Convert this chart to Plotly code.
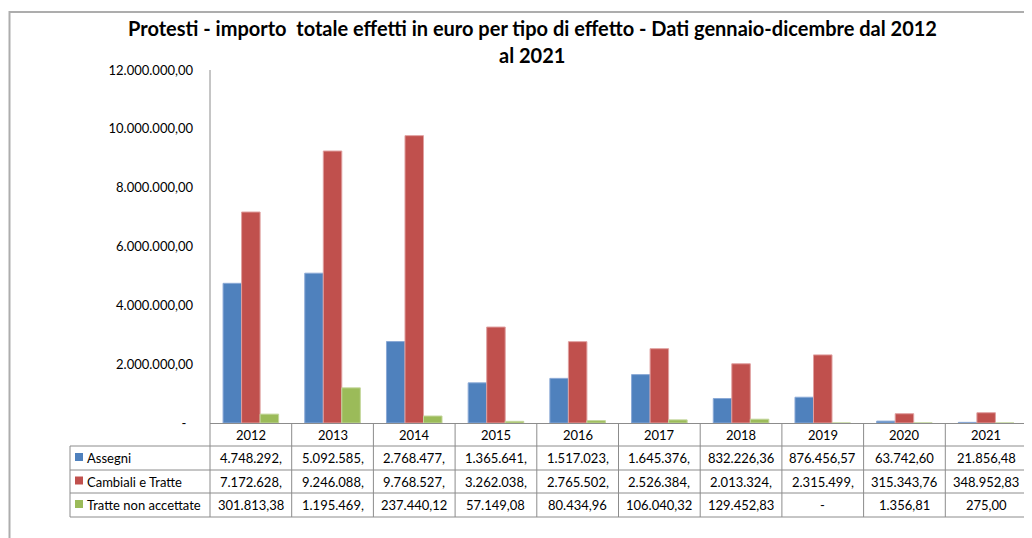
import plotly.graph_objects as go

years = ["2012", "2013", "2014", "2015", "2016", "2017", "2018", "2019", "2020", "2021"]
assegni = [4748292, 5092585, 2768477, 1365641, 1517023, 1645376, 832226.36, 876456.57, 63742.60, 21856.48]
cambiali = [7172628, 9246088, 9768527, 3262038, 2765502, 2526384, 2013324, 2315499, 315343.76, 348952.83]
tratte = [301813.38, 1195469, 237440.12, 57149.08, 80434.96, 106040.32, 129452.83, 0, 1356.81, 275.00]
series_names = ["Assegni", "Cambiali e Tratte", "Tratte non accettate"]
y_ticks = [0, 2000000, 4000000, 6000000, 8000000, 10000000, 12000000]

colors = ["#4F81BD", "#C0504D", "#9BBB59"]
edge_colors = ["#8AA9D6", "#E0A0A0", "#C3D69B"]
FONT = "Lato"
GRID = "#8C8C8C"

# the page body has an 8px margin, so lay things out in window pixels minus that
O = 8
W, H = 1032 - O, 538 - O
# plot area in window pixels
L, R, T, B = 210, 1027, 70, 423


def px(x):
    return (x - L) / (R - L)


def py(y):
    return (B - y) / (B - T)


def fmt_it(v, width=10):
    # italian number format, cut like Excel does when the cell is too narrow
    if v == 0:
        return "-"
    s = f"{v:,.2f}".replace(",", "X").replace(".", ",").replace("X", ".")
    if len(s) > width:
        s = s.split(",")[0] + ","
    return s


def fmt_tick(v):
    if v == 0:
        return "-\u00a0\u00a0"
    return f"{v:,.2f}".replace(",", "X").replace(".", ",").replace("X", ".")


fig = go.Figure()
for name, vals, c, ec in zip(series_names, [assegni, cambiali, tratte], colors, edge_colors):
    fig.add_trace(go.Bar(x=years, y=vals, name=name,
                         marker=dict(color=c, line=dict(color=ec, width=1))))

shapes = []
annotations = []
line = dict(color=GRID, width=1)

# table grid
ROW_Y = [423, 446, 470, 493, 517]
for y in ROW_Y[1:]:
    shapes.append(dict(type="line", xref="paper", yref="paper",
                       x0=px(70), x1=px(R), y0=py(y), y1=py(y), line=line))
shapes.append(dict(type="line", xref="paper", yref="paper",
                   x0=px(70), x1=px(70), y0=py(ROW_Y[1]), y1=py(ROW_Y[-1]), line=line))
shapes.append(dict(type="line", xref="paper", yref="paper",
                   x0=0, x1=0, y0=1, y1=py(ROW_Y[-1]), line=line))
for i in range(len(years)):
    shapes.append(dict(type="line", xref="x", yref="paper",
                       x0=i + 0.5, x1=i + 0.5, y0=py(ROW_Y[0]), y1=py(ROW_Y[-1]), line=line))

cell_font = dict(family=FONT, size=13, color="#000000")
for i, yr in enumerate(years):
    annotations.append(dict(x=i, y=py((ROW_Y[0] + ROW_Y[1]) / 2), xref="x", yref="paper",
                            xanchor="center", yanchor="middle",
                            text=yr, showarrow=False, font=cell_font))

for r, (name, vals, c) in enumerate(zip(series_names, [assegni, cambiali, tratte], colors)):
    yc = (ROW_Y[r + 1] + ROW_Y[r + 2]) / 2
    shapes.append(dict(type="rect", xref="paper", yref="paper",
                       x0=px(75), x1=px(83), y0=py(yc - 5), y1=py(yc + 3),
                       fillcolor=c, line=dict(width=0)))
    annotations.append(dict(x=px(85), y=py(yc), xref="paper", yref="paper", text=name,
                            xanchor="left", yanchor="middle", showarrow=False, font=cell_font))
    for i, v in enumerate(vals):
        annotations.append(dict(x=i, y=py(yc), xref="x", yref="paper", text=fmt_it(v),
                                xanchor="center", yanchor="middle",
                                showarrow=False, font=cell_font))

# title (two lines as in the original)
title_font = dict(family=FONT, size=20, color="#000000")
annotations.append(dict(x=px(532), y=py(28), xref="paper", yref="paper", showarrow=False,
                        xanchor="center", yanchor="middle",
                        text="<b>Protesti - importo  totale effetti in euro per tipo di effetto - Dati gennaio-dicembre dal 2012</b>",
                        font=title_font))
annotations.append(dict(x=px(532), y=py(55), xref="paper", yref="paper", showarrow=False,
                        xanchor="center", yanchor="middle",
                        text="<b>al 2021</b>", font=title_font))

# outer chart frame (left/top edges visible, the rest runs off the page)
shapes.append(dict(type="rect", xref="paper", yref="paper",
                   x0=px(9.5), x1=px(1032 + 20), y0=py(12), y1=py(538 + 20),
                   line=dict(color="#ADADAD", width=2)))

fig.update_layout(
    width=W, height=H,
    margin=dict(l=L - O, r=W - (R - O), t=T - O, b=H - (B - O)),
    barmode="group", bargap=0.32, bargroupgap=0,
    showlegend=False,
    plot_bgcolor="white", paper_bgcolor="white",
    font=dict(family=FONT, size=13, color="#000000"),
    shapes=shapes, annotations=annotations,
)
fig.update_xaxes(type="category", range=[-0.5, 9.5], showticklabels=False,
                 showline=True, linecolor=GRID, linewidth=1, showgrid=False, zeroline=False)
fig.update_yaxes(range=[0, 12000000], tickvals=y_ticks, ticktext=[fmt_tick(v) for v in y_ticks],
                 showgrid=False, zeroline=False, showline=False, ticks="",
                 ticklabelstandoff=16, tickfont=dict(family=FONT, size=13, color="#000000"))

fig.write_html("out.html")
